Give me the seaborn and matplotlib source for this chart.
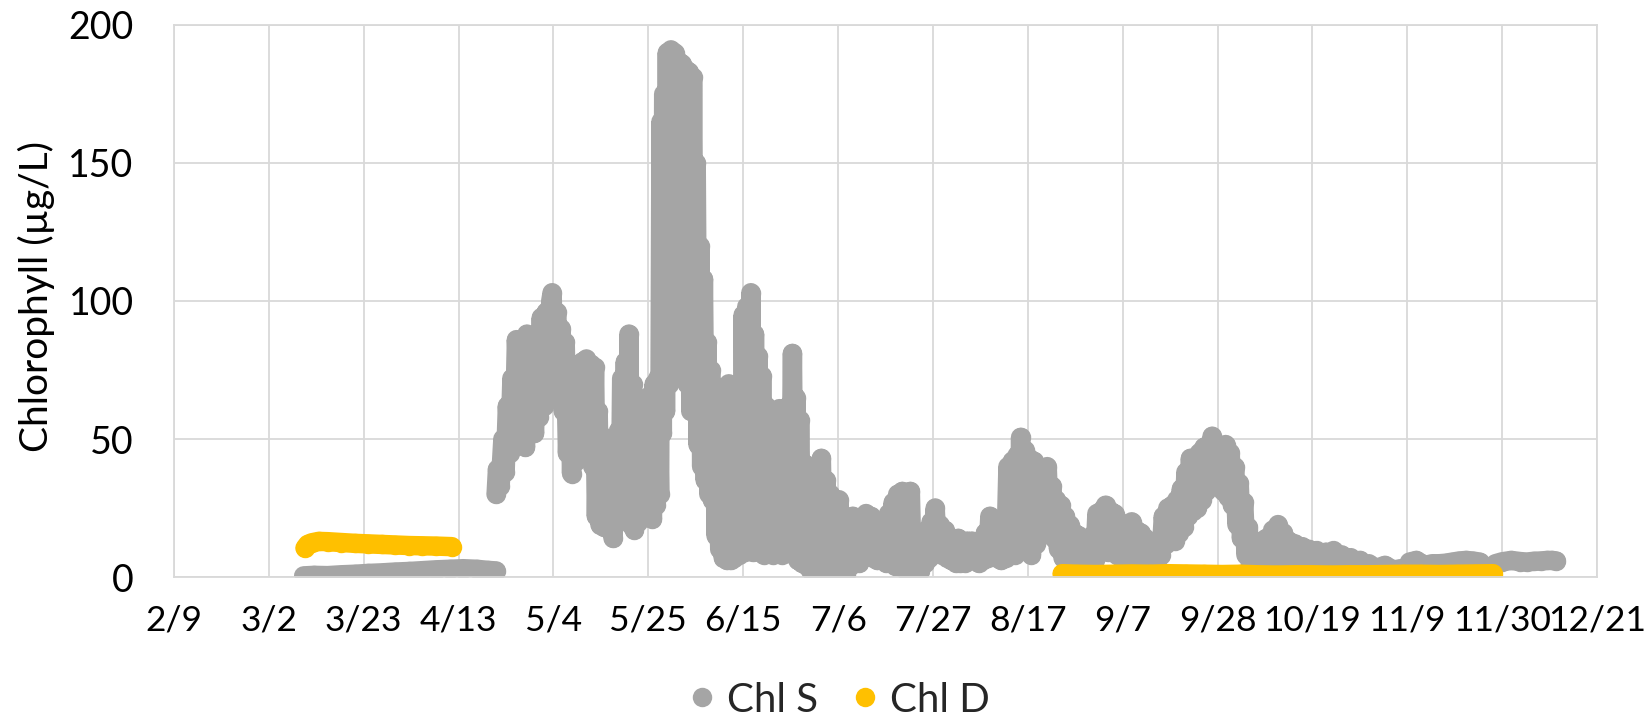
import matplotlib
matplotlib.use("Agg")
import matplotlib.pyplot as plt
from matplotlib.lines import Line2D
import seaborn as sns
import pandas as pd

# ---------------- data (x = days after 2/9) ----------------
tick_days = [0, 21, 42, 63, 84, 105, 126, 147, 168, 189, 210, 231, 252, 273, 294, 315]
tick_labels = ["2/9", "3/2", "3/23", "4/13", "5/4", "5/25", "6/15", "7/6", "7/27",
               "8/17", "9/7", "9/28", "10/19", "11/9", "11/30", "12/21"]
y_ticks = [0, 50, 100, 150, 200]

# Chl S, early low segment
chl_s_early_days = [28.7, 31, 34, 37, 40, 43, 46, 49, 52, 55, 58, 61, 64, 67, 69.5, 71.3]
chl_s_early_vals = [0.4, 0.6, 0.5, 0.8, 1.0, 1.3, 1.5, 1.8, 2.0, 2.3, 2.6, 2.8, 3.0, 2.8, 2.4, 2.2]

# Chl S, main record (alternating low / high readings)
chl_s_days = [
    71.3, 71.6, 72.2, 72.8, 73.3, 73.8, 74.3, 74.8, 75.3, 75.8,
    76.5, 77.2, 77.8, 78.1, 78.7, 79.3, 79.8, 80.3, 80.8, 81.3,
    81.8, 82.4, 82.9, 83.4, 83.7, 84.2, 84.7, 85.2, 85.7, 86.2,
    86.6, 87.1, 87.6, 88.0, 88.5, 89.0, 89.4, 89.9, 90.4, 90.8,
    91.3, 91.8, 92.3, 92.7, 93.1, 93.5, 93.9, 94.3, 94.8, 95.2,
    95.7, 96.2, 96.7, 97.2, 97.7, 98.0, 98.4, 98.8, 99.1, 99.5,
    99.9, 100.3, 100.7, 101.1, 101.5, 101.9, 102.3, 102.7, 103.1, 103.5,
    103.9, 104.3, 104.7, 105.1, 105.5, 105.9, 106.3, 106.7, 107.1, 107.5,
    107.8, 108.1, 108.4, 108.8, 109.2, 109.6, 110.0, 110.4, 110.8, 111.2,
    111.6, 112.0, 112.4, 112.8, 113.2, 113.6, 114.0, 114.4, 114.8, 115.2,
    115.6, 116.0, 116.4, 116.8, 117.2, 117.6, 118.0, 118.4, 118.8, 119.2,
    119.6, 120.0, 120.4, 120.8, 121.2, 121.6, 122.0, 122.4, 122.8, 123.2,
    123.6, 124.0, 124.5, 125.0, 125.4, 125.7, 126.0, 126.4, 126.8, 127.2,
    127.7, 128.1, 128.5, 128.9, 129.3, 129.7, 130.1, 130.5, 131.0, 131.5,
    132.0, 132.5, 133.0, 133.5, 134.0, 134.5, 135.0, 135.5, 136.0, 136.4,
    136.9, 137.3, 137.7, 138.1, 138.5, 139.0, 139.6, 140.1, 140.6, 141.0,
    141.5, 141.9, 142.4, 142.8, 143.3, 143.8, 144.3, 144.8, 145.3, 145.7,
    146.2, 146.7, 147.2, 147.7, 148.2, 148.7, 149.2, 149.7, 150.2, 150.7,
    151.2, 151.7, 152.2, 152.7, 153.2, 153.7, 154.2, 154.7, 155.2, 155.7,
    156.2, 156.7, 157.2, 157.7, 158.2, 158.7, 159.2, 159.7, 160.2, 160.7,
    161.2, 161.7, 162.2, 162.6, 163.0, 163.4, 163.8, 164.3, 164.8, 165.2,
    165.7, 166.2, 166.7, 167.1, 167.6, 168.1, 168.5, 169.0, 169.5, 170.0,
    170.6, 171.1, 171.6, 172.1, 172.6, 173.1, 173.6, 174.1, 174.6, 175.1,
    175.6, 176.1, 176.6, 177.1, 177.6, 178.1, 178.6, 179.1, 179.6, 180.1,
    180.6, 181.1, 181.6, 182.1, 182.6, 183.1, 183.6, 184.1, 184.6, 185.1,
    185.6, 186.1, 186.6, 187.0, 187.4, 187.8, 188.3, 188.8, 189.3, 189.8,
    190.3, 190.8, 191.3, 191.8, 192.3, 192.8, 193.3, 193.8, 194.3, 194.8,
    195.3, 195.8, 196.3, 196.8, 197.3, 197.8, 198.3, 198.8, 199.3, 199.8,
    200.3, 200.8, 201.3, 201.8, 202.3, 202.8, 203.3, 203.8, 204.3, 204.8,
    205.3, 205.8, 206.2, 206.7, 207.2, 207.7, 208.2, 208.7, 209.2, 209.7,
    210.2, 210.7, 211.2, 211.6, 212.0, 212.5, 213.0, 213.5, 214.0, 214.5,
    215.0, 215.5, 216.0, 216.5, 217.0, 217.5, 218.0, 218.5, 219.0, 219.5,
    220.0, 220.5, 221.0, 221.5, 222.0, 222.5, 223.0, 223.5, 224.0, 224.5,
    225.0, 225.5, 226.0, 226.5, 227.0, 227.5, 228.0, 228.5, 229.0, 229.5,
    229.8, 230.3, 230.8, 231.3, 231.8, 232.3, 232.8, 233.3, 233.8, 234.3,
    234.8, 235.3, 235.8, 236.3, 236.8, 237.3, 237.8, 238.3, 238.8, 239.3,
    239.8, 240.3, 240.8, 241.3, 241.8, 242.5, 243.2, 244.0, 244.4, 245.0,
    245.6, 246.2, 246.8, 247.5, 248.2, 249.0, 249.8, 250.5, 251.2, 252.0,
    253.0, 254.0, 255.0, 256.0, 256.7, 257.5, 258.5, 259.5, 260.5, 261.5,
    262.5, 263.5, 264.5, 266.0, 268.0, 270.0, 271.5, 272.5, 273.5, 275.0,
    276.0, 277.0, 278.5, 280.0, 281.5, 283.0, 284.5, 286.0, 287.5, 289.0,
    290.0, 290.6, 291.5, 292.5, 294.0, 296.0, 298.0, 299.5, 301.0, 302.5,
    304.0, 305.0, 306.0,
]
chl_s_vals = [
    30, 39, 33, 50, 38, 62, 45, 72, 50, 86,
    55, 80, 47, 88, 52, 70, 52, 76, 58, 94,
    62, 96, 66, 100, 103, 72, 96, 70, 90, 60,
    85, 45, 70, 37.5, 72, 42, 74, 46, 78, 50,
    79, 60, 77, 40, 76, 22, 60, 19, 51, 18,
    44, 20, 47, 14, 48, 22, 53, 27, 72, 30,
    78, 22, 88, 19, 70, 17, 65, 20, 62, 26,
    63, 30, 58, 24, 66, 21, 70, 26, 72, 30,
    165, 52, 175, 60, 190, 70, 191, 90, 190, 100,
    187, 120, 186, 110, 184, 70, 183, 60, 181, 62,
    150, 48, 120, 40, 108, 35, 85, 30, 75, 28,
    60, 15, 44, 10, 36, 7, 34, 6, 70, 6,
    66, 7, 37, 8, 70, 9, 95, 9, 98, 10,
    103, 9, 88, 10, 80, 9, 73, 8, 62, 9,
    45, 8, 59, 10, 61, 8, 55, 10, 62, 9,
    81, 8, 65, 6, 57, 5, 41, 4, 21, 2,
    10, 1, 38, 3, 43, 2, 35, 3, 30, 1,
    27, 2, 28, 4, 20, 1, 18, 4, 22, 5,
    20, 5, 18, 8, 23, 9, 22, 7, 19, 6,
    16, 6, 18, 5, 23, 5, 27, 4, 30, 4,
    31, 3, 29, 3, 31, 4, 16, 3, 5, 2,
    13, 5, 17, 7, 20, 9, 25, 9, 19, 8,
    17, 7, 14, 6, 13, 5, 14, 5, 12, 5,
    13, 6, 13, 6, 10, 5, 13, 6, 16, 7,
    22, 8, 18, 7, 16, 6, 19, 7, 40, 9,
    42, 8, 44, 12, 50.6, 15, 46, 10, 43, 8,
    42, 12, 40, 23, 38, 24, 40, 18, 33, 14,
    28, 10, 26, 7, 22, 5, 19, 4, 16, 3,
    15, 3, 10, 3, 8, 3, 15, 6, 23, 9,
    24, 10, 26, 9, 24, 10, 23, 8, 20, 7,
    13, 7, 17, 7, 20, 6, 17, 6, 16, 5,
    14, 4, 10, 3, 8, 3, 12, 8, 22, 12,
    25, 13, 26, 13, 28, 16, 32, 18, 38, 22,
    43, 24, 43, 25, 45, 28, 47, 31, 48, 35,
    51, 38, 48, 33, 47, 31, 48, 29, 45, 26,
    40, 19, 34, 14, 27, 8, 18, 4, 7, 2,
    12, 3, 13, 4, 14, 5, 17, 5, 19, 6,
    16, 5, 13, 5, 12, 4, 11, 4, 10, 4,
    9.6, 4, 9, 4, 9.6, 4, 8, 4, 7, 3,
    6, 3, 4.8, 3, 4.2, 2.5, 3, 1, 5.4, 6,
    5, 4.2, 4.8, 4.8, 5, 5.4, 5.8, 6, 5.8, 5.4,
    2, 0.5, 1, 4.8, 5.5, 6, 5.6, 5.4, 5.7, 5.8,
    6, 6, 5.8,
]

# Chl D, two deployments
chl_d_early_days = [29, 29.6, 30.5, 32, 34, 37, 40, 43, 46, 49, 52, 55, 58, 61.5]
chl_d_early_vals = [10.5, 11.8, 12.4, 12.9, 12.8, 12.5, 12.2, 12.0, 11.8, 11.6, 11.4, 11.3, 11.2, 11.0]
chl_d_late_days = [196.6, 200, 204, 208, 212, 216, 220, 224, 228, 232, 236, 240, 244,
                   248, 252, 256, 260, 264, 268, 272, 276, 280, 284, 288, 292]
chl_d_late_vals = [1.2, 1.0, 0.9, 1.0, 1.1, 1.0, 1.2, 1.1, 1.0, 0.9, 1.0, 0.8, 0.7,
                   0.8, 0.8, 0.7, 0.8, 0.8, 0.9, 1.0, 1.0, 0.9, 1.0, 1.1, 1.2]

GRAY = "#A5A5A5"
GOLD = "#FFC000"
GRID = "#D9D9D9"

# ---------------- style ----------------
sns.set_style("white")
plt.rcParams["font.family"] = ["Lato", "DejaVu Sans"]

fig = plt.figure(figsize=(16.52, 7.18), dpi=100)
ax = fig.add_axes([174 / 1652, 141 / 718, 1423 / 1652, 552 / 718])

MS = 14.0
line_kw = dict(linewidth=MS, marker="o", markersize=MS, markeredgewidth=0,
               solid_capstyle="round", solid_joinstyle="round",
               estimator=None, legend=False)

segments = [
    (chl_s_early_days, chl_s_early_vals, GRAY),
    (chl_s_days, chl_s_vals, GRAY),
    (chl_d_early_days, chl_d_early_vals, GOLD),
    (chl_d_late_days, chl_d_late_vals, GOLD),
]
for days, vals, col in segments:
    df = pd.DataFrame({"day": days, "chl": vals})
    sns.lineplot(data=df, x="day", y="chl", ax=ax, color=col, **line_kw)

ax.set_xlim(tick_days[0], tick_days[-1])
ax.set_ylim(y_ticks[0], y_ticks[-1])
ax.set_xticks(tick_days)
ax.set_xticklabels(tick_labels)
ax.set_yticks(y_ticks)
ax.tick_params(axis="x", length=0, pad=20, labelsize=25.5, colors="black")
ax.tick_params(axis="y", length=0, pad=29, labelsize=27, colors="black")
ax.grid(True, color=GRID, linewidth=1.3)
ax.set_axisbelow(True)
for s in ax.spines.values():
    s.set_color(GRID)
    s.set_linewidth(1.3)
ax.set_xlabel("")
ax.set_ylabel("")

fig.text(36 / 1652, 1 - 297 / 718, "Chlorophyll (µg/L)", rotation=90,
         ha="center", va="center", fontsize=28, color="black")

handles = [Line2D([], [], linestyle="", marker="o", markersize=MS,
                  markeredgewidth=0, color=GRAY),
           Line2D([], [], linestyle="", marker="o", markersize=MS,
                  markeredgewidth=0, color=GOLD)]
fig.legend(handles, ["Chl S", "Chl D"], loc="center",
           bbox_to_anchor=(0.509, 1 - 700 / 718), ncol=2, frameon=False,
           fontsize=29, handlelength=0.5, handletextpad=0.38,
           columnspacing=0.9, borderaxespad=0, borderpad=0)

fig.savefig("out.png", dpi=100)
